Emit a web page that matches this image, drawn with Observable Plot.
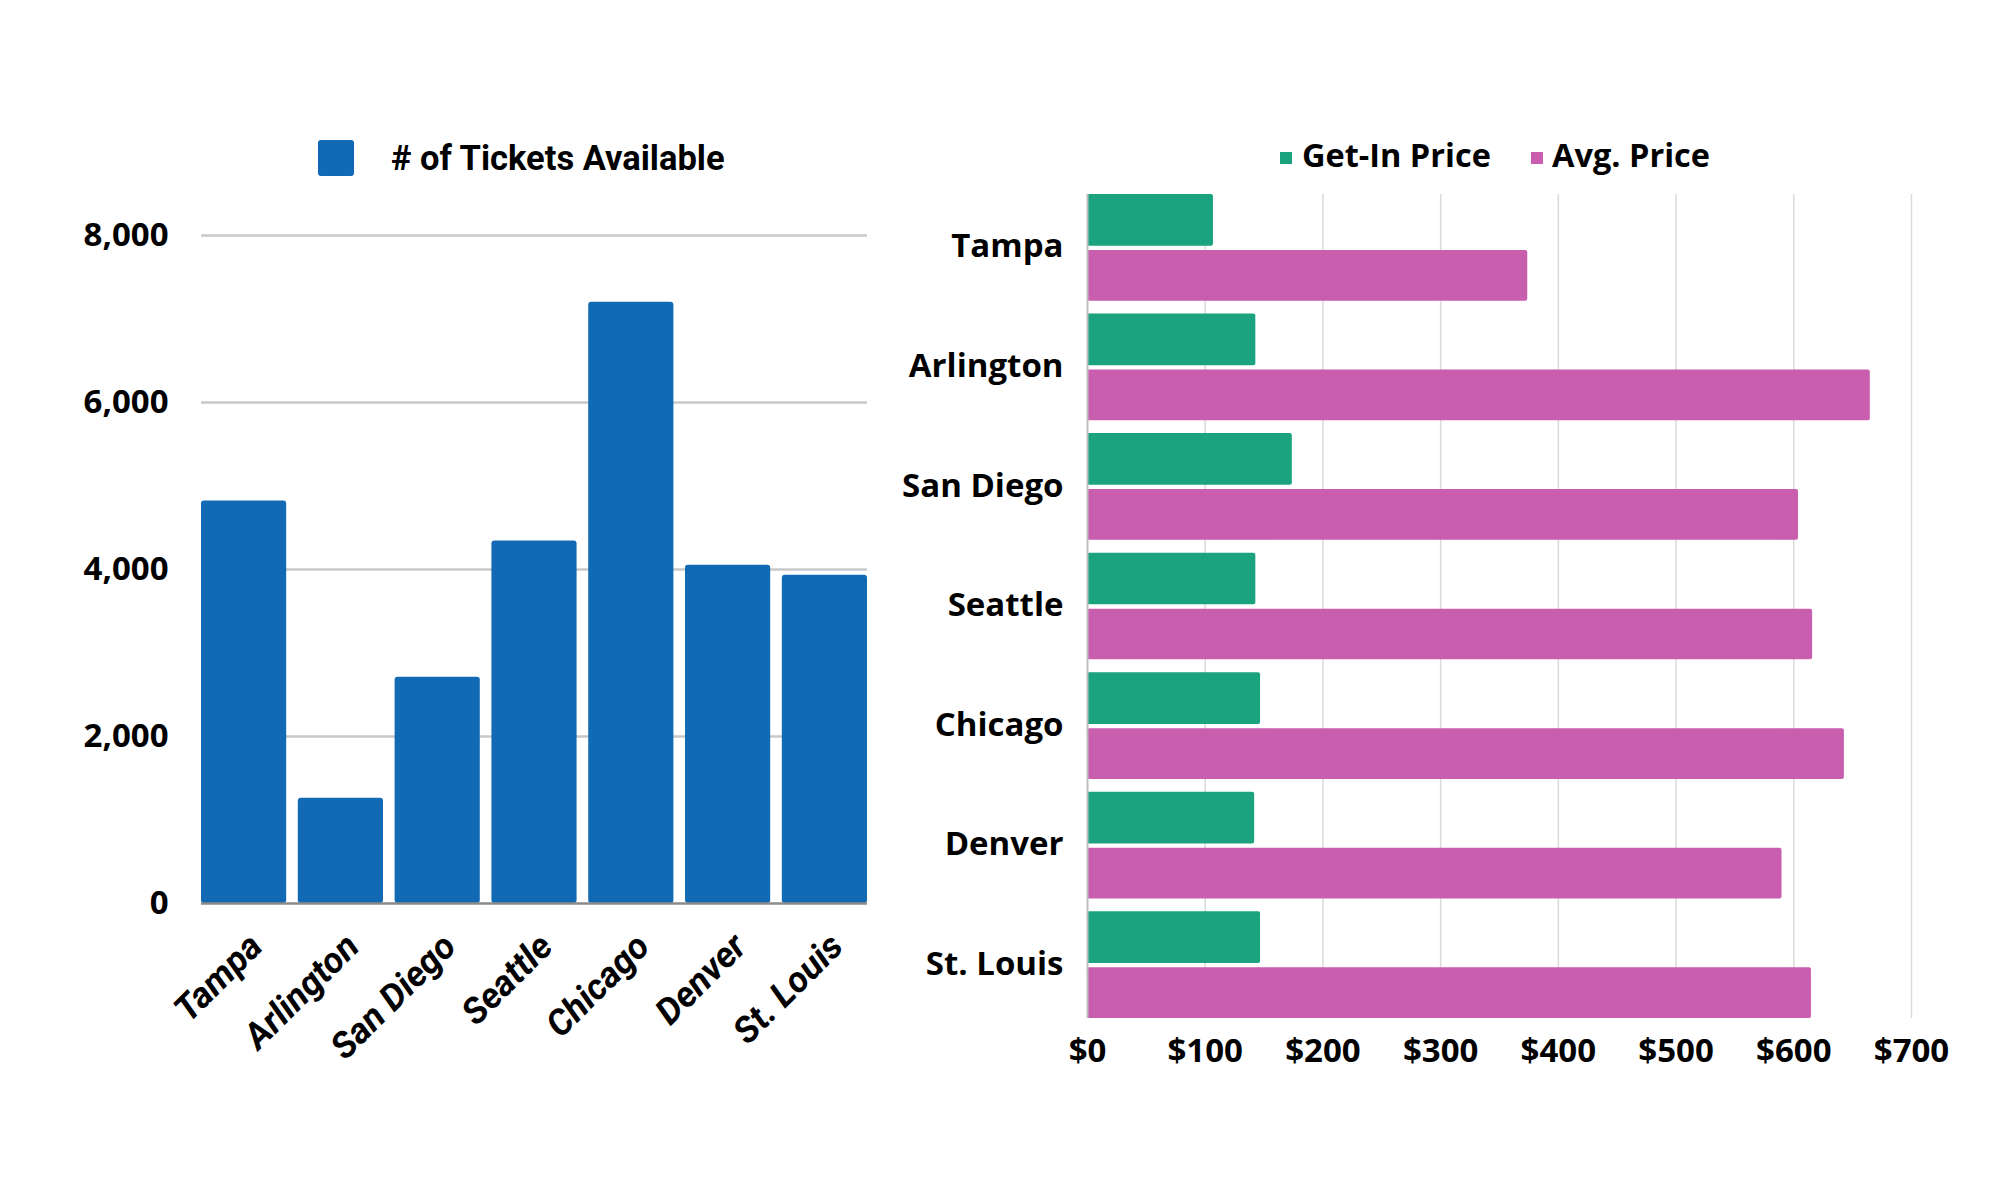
<!DOCTYPE html>
<html>
<head>
<meta charset="utf-8">
<script src="https://cdn.jsdelivr.net/npm/d3@7"></script>
<script src="https://cdn.jsdelivr.net/npm/@observablehq/plot@0.6"></script>
<style>
  html, body { margin: 0; padding: 0; background: #fff; }
  #page { position: relative; width: 2000px; height: 1200px; background: #fff; overflow: hidden; }
  .panel { position: absolute; top: 0; }
  .legend-item { position: absolute; font-weight: 700; font-size: 33px; color: #000; line-height: 1; white-space: nowrap; }
  .swatch { position: absolute; }
</style>
</head>
<body>
<div id="page">
  <div id="left" class="panel" style="left:0px;"></div>
  <div id="right" class="panel" style="left:880px;"></div>
</div>
<script>
// ---- data ----
const cities = ["Tampa", "Arlington", "San Diego", "Seattle", "Chicago", "Denver", "St. Louis"];
const tickets = [4820, 1260, 2710, 4340, 7200, 4050, 3930];
const getInPrice = [107, 143, 174, 143, 147, 142, 147];
const avgPrice = [374, 665, 604, 616, 643, 590, 615];
const ticketTicks = [0, 2000, 4000, 6000, 8000];
const priceTicks = [0, 100, 200, 300, 400, 500, 600, 700];
const seriesNames = ["# of Tickets Available", "Get-In Price", "Avg. Price"];

const BLUE = "#116AB3", GREEN = "#1BA37F", PINK = "#CA5EAE";

const ticketRows = cities.map((c, i) => ({city: c, tickets: tickets[i]}));
const priceRows = cities.map((c, i) => ({city: c, getIn: getInPrice[i], avg: avgPrice[i]}));

// ---- left chart ----
const left = Plot.plot({
  width: 900,
  height: 1100,
  marginLeft: 201,
  marginRight: 33,
  marginTop: 235,
  marginBottom: 197,
  style: {background: "transparent"},
  x: {type: "band", domain: cities, paddingInner: 0.12, paddingOuter: 0, round: false, axis: null},
  y: {domain: [0, 8000], axis: null},
  marks: [
    Plot.gridY(ticketTicks.filter(d => d > 0), {stroke: "#c8c8c8", strokeOpacity: 1, strokeWidth: 2.5}),
    Plot.barY(ticketRows, {x: "city", y: "tickets", fill: BLUE, rx: 3}),
    Plot.ruleY([0], {stroke: "#8a8a8a", strokeWidth: 2.5}),
    Plot.axisY({ticks: ticketTicks, tickFormat: d3.format(","), tickSize: 0, tickPadding: 33,
      fontSize: 33, fontWeight: "bold", fontFamily: "Open Sans", fill: "#000", label: null}),
    Plot.axisX({tickRotate: -45, tickSize: 0, tickPadding: 37, dx: 12,
      fontSize: 36, fontWeight: "bold", fontStyle: "italic", fontFamily: "Roboto", fill: "#000", label: null})
  ]
});
document.getElementById("left").appendChild(left);

// ---- right chart ----
const right = Plot.plot({
  width: 1120,
  height: 1120,
  marginLeft: 207,
  marginRight: 89,
  marginTop: 194,
  marginBottom: 102,
  style: {background: "transparent"},
  x: {domain: [0, 700], axis: null},
  y: {type: "band", domain: cities, paddingInner: 0.108, paddingOuter: 0, round: false, axis: null},
  marks: [
    Plot.gridX(priceTicks.filter(d => d > 0), {stroke: "#dadada", strokeOpacity: 1, strokeWidth: 1.5}),
    Plot.barX(priceRows, {y: "city", x: "getIn", fill: GREEN, insetBottom: 55, rx: 2}),
    Plot.barX(priceRows, {y: "city", x: "avg", fill: PINK, insetTop: 56, rx: 2}),
    Plot.ruleX([0], {stroke: "#bdbdbd", strokeWidth: 2}),
    Plot.axisY({tickSize: 0, tickPadding: 24, dy: -1, fontSize: 33, fontWeight: "bold", fontFamily: "Open Sans", fill: "#000", label: null}),
    Plot.axisX({ticks: priceTicks, tickFormat: d => "$" + d, tickSize: 0, tickPadding: 20,
      fontSize: 33, fontWeight: "bold", fontFamily: "Open Sans", fill: "#000", label: null})
  ]
});
document.getElementById("right").appendChild(right);

// ---- legends (HTML) ----
const page = document.getElementById("page");
function swatch(x, y, w, h, color, r) {
  const d = document.createElement("div");
  d.className = "swatch";
  Object.assign(d.style, {left: x + "px", top: y + "px", width: w + "px", height: h + "px", background: color, borderRadius: r + "px"});
  page.appendChild(d);
}
function label(x, yCenter, text, family, size) {
  const d = document.createElement("div");
  d.className = "legend-item";
  d.textContent = text;
  d.style.fontFamily = family;
  d.style.fontSize = size + "px";
  d.style.left = x + "px";
  d.style.top = (yCenter - size / 2) + "px";
  page.appendChild(d);
}
swatch(318, 140, 36, 36, BLUE, 3);
label(391, 158, seriesNames[0], "Roboto, sans-serif", 34.5);
swatch(1280, 152, 12, 12, GREEN, 0);
label(1302, 155, seriesNames[1], "'Open Sans', sans-serif", 32.5);
swatch(1531, 152, 12, 12, PINK, 0);
label(1552, 155, seriesNames[2], "'Open Sans', sans-serif", 32.5);
</script>
</body>
</html>
